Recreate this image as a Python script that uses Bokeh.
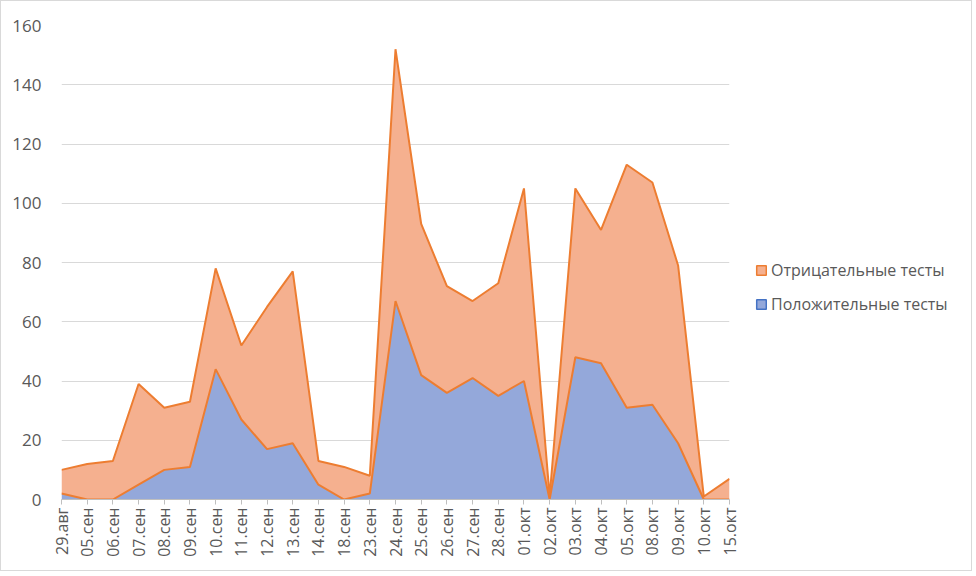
import math
from bokeh.plotting import figure
from bokeh.layouts import row
from bokeh.models import Range1d, FixedTicker, Legend, LegendItem, ColumnDataSource
from bokeh.embed import file_html
from bokeh.resources import INLINE

dates = ["29.авг", "05.сен", "06.сен", "07.сен", "08.сен", "09.сен", "10.сен", "11.сен",
         "12.сен", "13.сен", "14.сен", "18.сен", "23.сен", "24.сен", "25.сен", "26.сен",
         "27.сен", "28.сен", "01.окт", "02.окт", "03.окт", "04.окт", "05.окт", "08.окт",
         "09.окт", "10.окт", "15.окт"]
positive = [2, 0, 0, 5, 10, 11, 44, 27, 17, 19, 5, 0, 2, 67, 42, 36, 41, 35, 40, 0,
            48, 46, 31, 32, 19, 0, 0]
total = [10, 12, 13, 39, 31, 33, 78, 52, 65, 77, 13, 11, 8, 152, 93, 72, 67, 73, 105, 1,
         105, 91, 113, 107, 79, 1, 7]
negative = [t - p for t, p in zip(total, positive)]
y_ticks = [0, 20, 40, 60, 80, 100, 120, 140, 160]
series_names = ["Отрицательные тесты", "Положительные тесты"]

FONT = "Open Sans"
TXT = "#595959"
ORANGE_LINE = "#ED7D31"
ORANGE_FILL = "#F5B08F"
BLUE_FILL = "#94A8DA"
BLUE_LINE = "#4472C4"

x = list(range(len(dates)))
src = ColumnDataSource(dict(x=x, pos=positive, neg=negative, tot=total))

p = figure(frame_width=668, frame_height=474, output_backend="svg", toolbar_location=None,
           x_range=Range1d(0, len(dates) - 1), y_range=Range1d(0, 160),
           min_border_left=60, min_border_right=12, min_border_top=24, min_border_bottom=71)
p.outline_line_color = None

p.varea_stack(["pos", "neg"], x="x", source=src, color=[BLUE_FILL, ORANGE_FILL])
p.line(x="x", y="pos", source=src, line_color=ORANGE_LINE, line_width=2)
p.line(x="x", y="tot", source=src, line_color=ORANGE_LINE, line_width=2)

p.xaxis.ticker = FixedTicker(ticks=x)
p.xaxis.major_label_overrides = {i: d for i, d in enumerate(dates)}
p.xaxis.major_label_orientation = math.pi / 2
p.xaxis.axis_line_color = "#BFBFBF"
p.xaxis.major_tick_line_color = "#BFBFBF"
p.xaxis.major_tick_out = 5
p.xaxis.major_tick_in = 0
p.xaxis.minor_tick_line_color = None
p.xaxis.major_label_text_font = FONT
p.xaxis.major_label_text_font_size = "16px"
p.xaxis.major_label_text_color = TXT
p.xaxis.major_label_standoff = 3

p.yaxis.ticker = FixedTicker(ticks=y_ticks)
p.yaxis.axis_line_color = None
p.yaxis.major_tick_line_color = None
p.yaxis.minor_tick_line_color = None
p.yaxis.major_label_text_font = FONT
p.yaxis.major_label_text_font_size = "17px"
p.yaxis.major_label_text_color = TXT
p.yaxis.major_label_standoff = 14

p.xgrid.grid_line_color = None
p.ygrid.grid_line_color = "#D9D9D9"
p.ygrid.grid_line_width = 1

# legend panel
lp = figure(width=230, height=569, output_backend="svg", toolbar_location=None,
            x_range=Range1d(0, 1), y_range=Range1d(0, 1),
            min_border=0)
lp.axis.visible = False
lp.grid.visible = False
lp.outline_line_color = None

nan = float("nan")
sq_neg = lp.quad(left=[nan], right=[nan], bottom=[nan], top=[nan], fill_color=ORANGE_FILL,
                 line_color=ORANGE_LINE, line_width=1.5)
sq_pos = lp.quad(left=[nan], right=[nan], bottom=[nan], top=[nan], fill_color=BLUE_FILL,
                 line_color=BLUE_LINE, line_width=1.5)

legend = Legend(items=[LegendItem(label=series_names[0], renderers=[sq_neg]),
                       LegendItem(label=series_names[1], renderers=[sq_pos])],
                location=(14, 184), orientation="vertical")
legend.margin = 0
legend.padding = 5
legend.label_text_font = FONT
legend.label_text_font_size = "16px"
legend.label_text_color = TXT
legend.border_line_color = None
legend.background_fill_alpha = 0
legend.glyph_width = 12
legend.glyph_height = 12
legend.spacing = 12
legend.label_standoff = 4
lp.add_layout(legend, "center")

layout = row(p, lp)
layout.styles = {"border": "1px solid #D9D9D9"}

open("out.html", "w").write(file_html(layout, INLINE))
